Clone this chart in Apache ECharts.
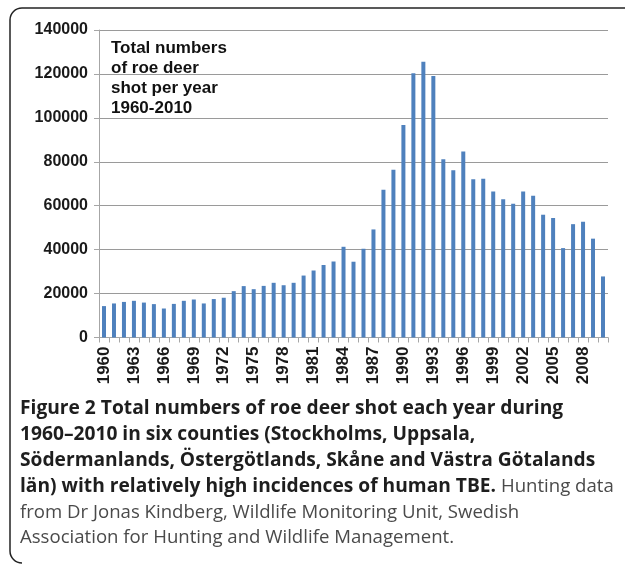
<!DOCTYPE html>
<html>
<head>
<meta charset="utf-8">
<script src="https://cdn.jsdelivr.net/npm/echarts@6/dist/echarts.min.js"></script>
<style>
html,body{margin:0;padding:0;background:#fff;}
#chart{width:625px;height:564px;}
</style>
</head>
<body>
<div id="chart"></div>
<script>
const years = ['1960','1961','1962','1963','1964','1965','1966','1967','1968','1969',
'1970','1971','1972','1973','1974','1975','1976','1977','1978','1979',
'1980','1981','1982','1983','1984','1985','1986','1987','1988','1989',
'1990','1991','1992','1993','1994','1995','1996','1997','1998','1999',
'2000','2001','2002','2003','2004','2005','2006','2007','2008','2009','2010'];
const roeDeerShot = [14300,15500,16200,16700,15900,15200,13200,15300,16700,17300,
15500,17500,18100,21100,23400,22000,23500,24900,23800,24900,
28200,30500,33000,34600,41300,34500,40400,49200,67300,76400,
96700,120300,125600,119100,81200,76100,84700,72000,72300,66500,
62900,60900,66500,64500,55900,54400,40700,51600,52700,45000,27800];
const yTicks = {min: 0, max: 140000, interval: 20000};
const annotationLines = ['Total numbers', 'of roe deer', 'shot per year', '1960-2010'];
const captionLines = [
  [{t:'Figure 2 Total numbers of roe deer shot each year during', s:'b'}],
  [{t:'1960\u20132010 in six counties (Stockholms, Uppsala,', s:'b'}],
  [{t:'S\u00f6dermanlands, \u00d6sterg\u00f6tlands, Sk\u00e5ne and V\u00e4stra G\u00f6talands', s:'b'}],
  [{t:'l\u00e4n) with relatively high incidences of human TBE.', s:'b'}, {t:' Hunting data', s:'n'}],
  [{t:'from Dr Jonas Kindberg, Wildlife Monitoring Unit, Swedish', s:'n'}],
  [{t:'Association for Hunting and Wildlife Management.', s:'n'}]
];

const chart = echarts.init(document.getElementById('chart'), null, {renderer:'canvas'});
const gray = '#a6a6a6';
const labelColor = '#1a1a1a';

const graphics = [];
const frameStyle = {fill:null, stroke:'#222', lineWidth:1.5};
// frame
graphics.push({type:'line', silent:true, shape:{x1:22, y1:8, x2:625, y2:8}, style:frameStyle});
graphics.push({type:'arc', silent:true, shape:{cx:22, cy:20, r:12, startAngle:Math.PI, endAngle:Math.PI*1.5, clockwise:true}, style:frameStyle});
graphics.push({type:'line', silent:true, shape:{x1:10, y1:20, x2:10, y2:551}, style:frameStyle});
graphics.push({type:'arc', silent:true, shape:{cx:22, cy:551, r:12, startAngle:Math.PI*0.5, endAngle:Math.PI, clockwise:true}, style:frameStyle});
// annotation
graphics.push({
  type:'text', left:111, top:38, silent:true,
  style:{text: annotationLines.join('\n'), font:'bold 17px "Liberation Sans", Arial, sans-serif',
    fill:'#111', lineHeight:20}
});
// caption
const lineTops = [399, 425, 451, 477, 503, 528];
captionLines.forEach((parts, i) => {
  graphics.push({
    type:'text', left:20, top:lineTops[i], silent:true,
    style:{
      text: parts.map(p => '{' + p.s + '|' + p.t + '}').join(''),
      rich:{
        b:{fontFamily:'"Open Sans", sans-serif', fontWeight:'bold', fontSize:19.2, fill:'#1e1e1e', lineHeight:24},
        n:{fontFamily:'"Open Sans", sans-serif', fontWeight:'normal', fontSize:18.6, fill:'#4a4a4a', lineHeight:24}
      }
    }
  });
});

chart.setOption({
  animation:false,
  backgroundColor:'#fff',
  grid:{left:99, right:17, top:30, bottom:226.5, containLabel:false},
  xAxis:{
    type:'category', data:years, boundaryGap:true,
    axisLine:{lineStyle:{color:gray, width:1}},
    axisTick:{show:true, interval:0, length:5, lineStyle:{color:gray}},
    axisLabel:{interval:2, rotate:90, margin:9, color:labelColor, fontWeight:'bold',
      fontSize:17, fontFamily:'"Liberation Sans", Arial, sans-serif'}
  },
  yAxis:{
    type:'value', min:yTicks.min, max:yTicks.max, interval:yTicks.interval,
    axisLine:{show:true, lineStyle:{color:gray, width:1}},
    axisTick:{show:true, length:5, lineStyle:{color:gray}},
    axisLabel:{margin:11, color:labelColor, fontWeight:'bold', fontSize:16,
      fontFamily:'"Liberation Sans", Arial, sans-serif', formatter: v => String(v)},
    splitLine:{show:true, lineStyle:{color:'#9a9a9a', width:1}}
  },
  series:[{
    type:'bar', data:roeDeerShot, barWidth:4,
    itemStyle:{color:'#4f81bd'}
  }],
  graphic: graphics
});
</script>
</body>
</html>
